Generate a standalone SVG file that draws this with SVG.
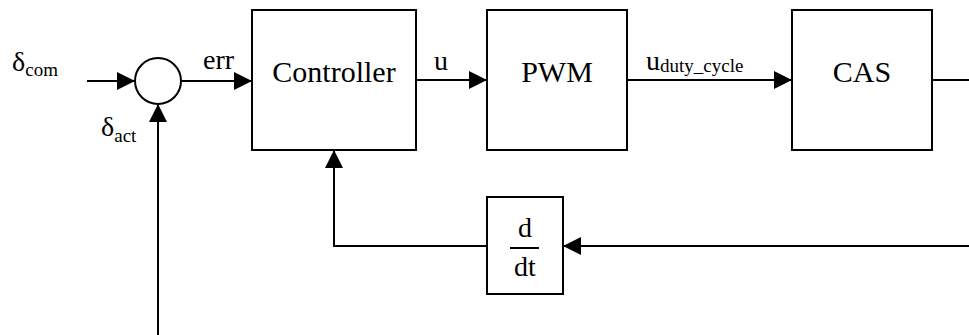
<svg xmlns="http://www.w3.org/2000/svg" width="969" height="335" viewBox="0 0 969 335">
<defs>
<style>
.box{fill:#fff;stroke:#000;stroke-width:2}
.ln{fill:none;stroke:#000;stroke-width:2}
.t{font-family:'Liberation Serif','DejaVu Serif',serif;fill:#000}
.big{font-size:30px}
.lab{font-size:28px}
.sub{font-size:19px}
</style>
<marker id="ah" viewBox="0 0 18 18" refX="18" refY="9" markerWidth="18" markerHeight="18" markerUnits="userSpaceOnUse" orient="auto">
<path d="M0,0 L18,9 L0,18 Z" fill="#000"/>
</marker>
</defs>
<g id="connectors">
<line class="ln" x1="87" y1="81" x2="135" y2="81" marker-end="url(#ah)"/>
<line class="ln" x1="181" y1="81" x2="252" y2="81" marker-end="url(#ah)"/>
<line class="ln" x1="416" y1="80" x2="487" y2="80" marker-end="url(#ah)"/>
<line class="ln" x1="627" y1="80" x2="792" y2="80" marker-end="url(#ah)"/>
<line class="ln" x1="932" y1="80" x2="969" y2="80"/>
<line class="ln" x1="969" y1="246" x2="563" y2="246" marker-end="url(#ah)"/>
<polyline class="ln" points="487,246 334,246 334,150" marker-end="url(#ah)"/>
<line class="ln" x1="158" y1="335" x2="158" y2="104" marker-end="url(#ah)"/>
</g>
<g id="sum">
<circle class="box" cx="158" cy="81" r="23"/>
</g>
<g id="controller">
<rect class="box" x="252" y="10" width="164" height="140"/>
<text class="t big" font-family="Liberation Serif, serif" x="334" y="82" text-anchor="middle">Controller</text>
</g>
<g id="pwm">
<rect class="box" x="487" y="10" width="140" height="140"/>
<text class="t big" x="557" y="82" text-anchor="middle">PWM</text>
</g>
<g id="cas">
<rect class="box" x="792" y="10" width="140" height="140"/>
<text class="t big" x="862" y="82" text-anchor="middle">CAS</text>
</g>
<g id="deriv">
<rect class="box" x="487" y="197" width="76" height="97"/>
<text class="t lab" x="525" y="237" text-anchor="middle">d</text>
<line class="ln" x1="510" y1="248" x2="539" y2="248" stroke-width="1.5"/>
<text class="t lab" x="525" y="276" text-anchor="middle">dt</text>
</g>
<g id="labels">
<text class="t lab" x="12" y="71">δ<tspan class="sub" dy="5">com</tspan></text>
<text class="t lab" x="101" y="136">δ<tspan class="sub" dy="6">act</tspan></text>
<text class="t lab" x="203" y="69">err</text>
<text class="t lab" x="434" y="70">u</text>
<text class="t lab" x="646" y="70">u<tspan class="sub" dy="2">duty_cycle</tspan></text>
</g>
</svg>
